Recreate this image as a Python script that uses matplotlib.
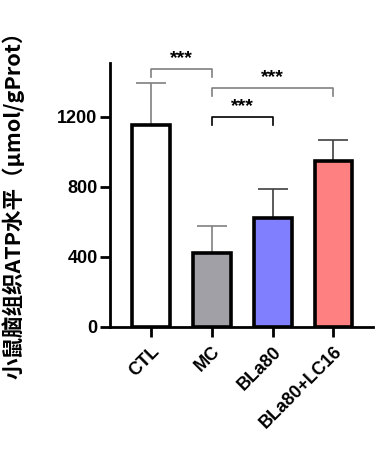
import matplotlib
matplotlib.use('Agg')
import matplotlib.pyplot as plt
import numpy as np

plt.rcParams['font.family'] = ['Liberation Sans', 'Noto Sans CJK SC', 'DejaVu Sans']
plt.rcParams['font.weight'] = 'bold'

groups = ['CTL', 'MC', 'BLa80', 'BLa80+LC16']
means = [1153, 421, 619, 947]
errs = [238, 152, 168, 120]
colors = ['#FFFFFF', '#A0A0A6', '#8080FF', '#FF8080']
err_colors = ['#808080', '#808080', '#404040', '#404040']

# significance brackets: (left, right, height)
brackets = [(0, 1, 1473, '#808080'), (1, 3, 1362, '#808080'), (1, 2, 1200, '#000000')]

fig = plt.figure(figsize=(3.86, 4.54), dpi=100)
ax = fig.add_axes([110/386, 1 - 326.7/454, (373-110)/386, (326.7-63)/454])

x = np.arange(len(groups))
ax.bar(x, means, width=0.62, color=colors, edgecolor='black', linewidth=2.6, zorder=2)
for i in range(len(groups)):
    ax.errorbar(x[i], means[i], yerr=[[0], [errs[i]]], fmt='none', ecolor=err_colors[i],
                elinewidth=1.2, capsize=10.5, capthick=1.2, zorder=1)

for l, r, h, c in brackets:
    ax.plot([l, l, r, r], [h - 45, h, h, h - 45], color=c, lw=1.2, clip_on=False)
    ax.text((l + r) / 2, h + 60, '***', ha='center', va='center', fontsize=14, fontweight='bold')

ax.set_xlim(-0.675, 3.65)
ax.set_ylim(0, 1507)
ax.set_yticks([0, 400, 800, 1200])
ax.set_xticks(x)
ax.set_xticklabels(groups, rotation=45, ha='right', rotation_mode='anchor', fontsize=13, fontweight='bold')
for lab in ax.get_yticklabels():
    lab.set_fontsize(13)
    lab.set_fontweight('bold')
ax.tick_params(axis='both', width=2, length=7)
ax.tick_params(axis='y', pad=2)
ax.tick_params(axis='x', pad=5)
ax.spines['top'].set_visible(False)
ax.spines['right'].set_visible(False)
ax.spines['left'].set_linewidth(2)
ax.spines['bottom'].set_linewidth(2)
ax.set_ylabel('小鼠脑组织ATP水平（μmol/gProt）', fontsize=15.5, fontweight='bold',
              family=['Noto Sans CJK SC', 'DejaVu Sans'])
ax.yaxis.set_label_coords(-0.325, 0.48)

fig.savefig('out.png', dpi=100)
